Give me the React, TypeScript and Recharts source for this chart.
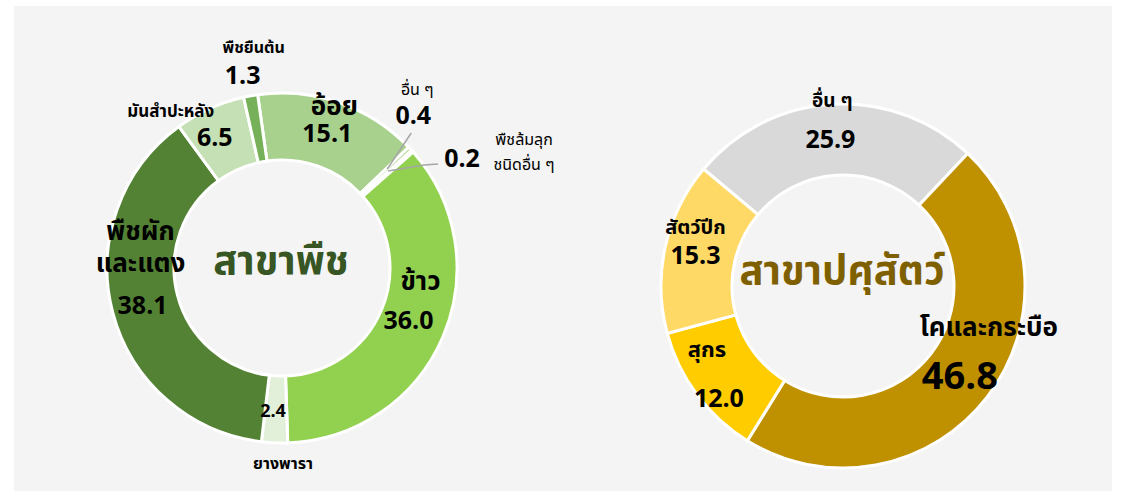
import { PieChart, Pie, Cell } from 'recharts';

// Left donut (สาขาพืช)
const cropNames = [
  'อ้อย',
  'อื่น ๆ',
  'พืชล้มลุก\nชนิดอื่น ๆ',
  'ข้าว',
  'ยางพารา',
  'พืชผัก\nและแตง',
  'มันสำปะหลัง',
  'พืชยืนต้น',
];
const cropValues = [15.1, 0.4, 0.2, 36.0, 2.4, 38.1, 6.5, 1.3];
const cropColors = ['#a9d18e', '#b5d99c', '#a3d46a', '#92d050', '#e2f0d9', '#548235', '#c5e0b4', '#76b058'];
const cropTitle = 'สาขาพืช';

// Right donut (สาขาปศุสัตว์)
const livestockNames = ['อื่น ๆ', 'โคและกระบือ', 'สุกร', 'สัตว์ปีก'];
const livestockValues = [25.9, 46.8, 12.0, 15.3];
const livestockColors = ['#d9d9d9', '#bf9000', '#ffcc00', '#ffd966'];
const livestockTitle = 'สาขาปศุสัตว์';

const FONT = '"Noto Sans Thai", "Noto Sans", sans-serif';
const RAD = Math.PI / 180;

const LEFT = { cx: 277, cy: 263 };
const RIGHT = { cx: 838, cy: 281 };

type Spot = { dx: number; dy: number; size: number; weight?: number; gap?: number };
type Place = { r: number; name: Spot; value: Spot; leader?: 'straight' | 'bent' };

// label placement, offsets from the point at radius r on the slice's mid angle
const cropPlaces: Place[] = [
  { r: 141, name: { dx: 6, dy: -28, size: 26 }, value: { dx: -1, dy: -1, size: 25 } },
  { r: 141, name: { dx: 32, dy: -82, size: 16, weight: 400 }, value: { dx: 28, dy: -56, size: 25 }, leader: 'straight' },
  { r: 141, name: { dx: 137, dy: -21, size: 16, weight: 400, gap: 25 }, value: { dx: 75, dy: -15, size: 25 }, leader: 'bent' },
  { r: 141, name: { dx: 9, dy: -42, size: 26 }, value: { dx: -3, dy: -3, size: 25 } },
  { r: 141, name: { dx: 7, dy: 55, size: 16 }, value: { dx: -3, dy: 3, size: 18 } },
  { r: 141, name: { dx: -5, dy: -56, size: 26, gap: 32 }, value: { dx: -3, dy: 2, size: 25 } },
  { r: 141, name: { dx: -53, dy: -28, size: 17 }, value: { dx: -9, dy: -2, size: 25 } },
  { r: 141, name: { dx: -3, dy: -81, size: 16 }, value: { dx: -14, dy: -53, size: 25 } },
];

const livestockPlaces: Place[] = [
  { r: 146, name: { dx: -2, dy: -39, size: 19 }, value: { dx: -4, dy: 0, size: 25 } },
  { r: 146, name: { dx: 30, dy: -47, size: 26 }, value: { dx: 1, dy: 3, size: 38 } },
  { r: 146, name: { dx: -19, dy: -23, size: 22 }, value: { dx: -7, dy: 26, size: 25 } },
  { r: 146, name: { dx: -5, dy: -26, size: 20 }, value: { dx: -5, dy: 2, size: 25 } },
];

const cropData = cropNames.map((name, i) => ({ name, value: cropValues[i] }));
const livestockData = livestockNames.map((name, i) => ({ name, value: livestockValues[i] }));

function makeLabel(places: Place[], names: string[], values: number[]) {
  return (props: any) => {
    const { cx, cy, midAngle, index } = props;
    const p = places[index];
    const px = cx + p.r * Math.cos(-midAngle * RAD);
    const py = cy + p.r * Math.sin(-midAngle * RAD);
    const lines = names[index].split('\n');
    const gap = p.name.gap ?? 28;
    const top = py + p.name.dy - ((lines.length - 1) * gap) / 2;
    const vx = px + p.value.dx;
    const vy = py + p.value.dy;
    return (
      <g>
        {p.leader === 'straight' && (
          <line x1={px + 2} y1={py - 3} x2={vx - 2} y2={vy + 17} stroke="#a6a6a6" strokeWidth={1.5} />
        )}
        {p.leader === 'bent' && (
          <polyline
            points={`${px + 1},${py - 3} ${vx - 38},${vy + 6} ${vx - 24},${vy + 5}`}
            fill="none"
            stroke="#a6a6a6"
            strokeWidth={1.5}
          />
        )}
        {lines.map((t, k) => (
          <text
            key={k}
            x={px + p.name.dx}
            y={top + k * gap}
            textAnchor="middle"
            dominantBaseline="central"
            fontFamily={FONT}
            fontSize={p.name.size}
            fontWeight={p.name.weight ?? 700}
            fill="#000"
          >
            {t}
          </text>
        ))}
        <text
          x={vx}
          y={vy}
          textAnchor="middle"
          dominantBaseline="central"
          fontFamily={FONT}
          fontSize={p.value.size}
          fontWeight={700}
          fill="#000"
        >
          {values[index].toFixed(1)}
        </text>
      </g>
    );
  };
}

export default function App() {
  return (
    <div style={{ position: 'relative', width: 1127, height: 493, background: '#fff' }}>
      <style>{'body{margin:0}'}</style>
      <div
        style={{ position: 'absolute', left: 14, top: 6, width: 1098, height: 485, background: '#f4f4f4' }}
      />
      <div style={{ position: 'absolute', left: 0, top: 0 }}>
        <PieChart width={1127} height={493}>
          <Pie
            data={cropData}
            dataKey="value"
            nameKey="name"
            cx={LEFT.cx}
            cy={LEFT.cy}
            innerRadius={108}
            outerRadius={175}
            startAngle={98}
            endAngle={-262}
            stroke="#fff"
            strokeWidth={3}
            label={makeLabel(cropPlaces, cropNames, cropValues)}
            labelLine={false}
            isAnimationActive={false}
          >
            {cropData.map((d, i) => (
              <Cell key={d.name + i} fill={cropColors[i]} />
            ))}
          </Pie>
          <Pie
            data={livestockData}
            dataKey="value"
            nameKey="name"
            cx={RIGHT.cx}
            cy={RIGHT.cy}
            innerRadius={111}
            outerRadius={182}
            startAngle={140}
            endAngle={-220}
            stroke="#fff"
            strokeWidth={3}
            label={makeLabel(livestockPlaces, livestockNames, livestockValues)}
            labelLine={false}
            isAnimationActive={false}
          >
            {livestockData.map((d, i) => (
              <Cell key={d.name + i} fill={livestockColors[i]} />
            ))}
          </Pie>
        </PieChart>
      </div>
      <svg
        width={1127}
        height={493}
        style={{ position: 'absolute', left: 0, top: 0, pointerEvents: 'none' }}
      >
        <text
          x={LEFT.cx + 4}
          y={LEFT.cy - 1}
          textAnchor="middle"
          dominantBaseline="central"
          fontFamily={FONT}
          fontSize={40}
          fontWeight={700}
          fill="#375623"
        >
          {cropTitle}
        </text>
        <text
          x={RIGHT.cx + 4}
          y={RIGHT.cy - 9}
          textAnchor="middle"
          dominantBaseline="central"
          fontFamily={FONT}
          fontSize={40}
          fontWeight={700}
          fill="#7f6000"
        >
          {livestockTitle}
        </text>
      </svg>
    </div>
  );
}
